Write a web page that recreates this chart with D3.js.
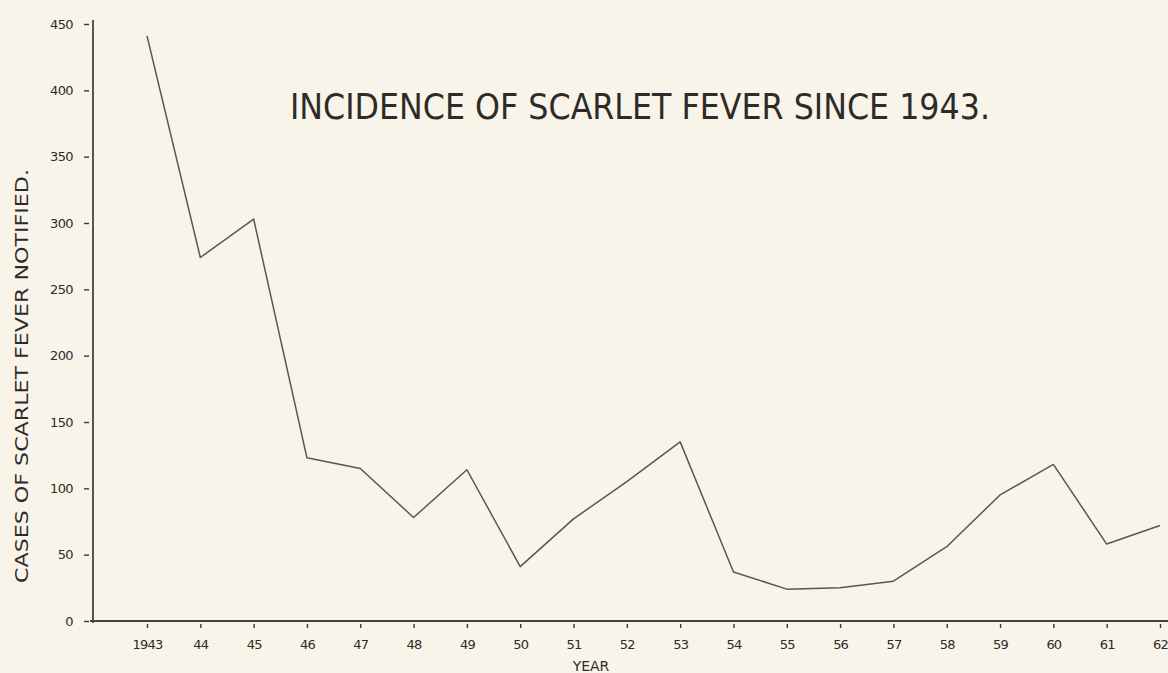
<!DOCTYPE html>
<html>
<head>
<meta charset="utf-8">
<script src="https://cdn.jsdelivr.net/npm/d3@7"></script>
<style>
  html, body { margin: 0; padding: 0; background: #f8f4ea; }
  svg { display: block; }
  text { font-family: "DejaVu Sans", sans-serif; fill: #2e2b27; }
</style>
</head>
<body>
<div id="chart"></div>
<script>
// values
const years = [1943, 1944, 1945, 1946, 1947, 1948, 1949, 1950, 1951, 1952,
               1953, 1954, 1955, 1956, 1957, 1958, 1959, 1960, 1961, 1962];
const cases = [441, 274, 303, 123, 115, 78, 114, 41, 77, 105,
               135, 37, 24, 25, 30, 56, 95, 118, 58, 72];
const yearLabels = ["1943", "44", "45", "46", "47", "48", "49", "50", "51", "52",
                    "53", "54", "55", "56", "57", "58", "59", "60", "61", "62"];
const yTicks = [0, 50, 100, 150, 200, 250, 300, 350, 400, 450];

const width = 1168, height = 673;
const svg = d3.select("#chart").append("svg")
  .attr("width", width).attr("height", height);

svg.append("rect").attr("width", width).attr("height", height).attr("fill", "#f8f4ea");

const x = d3.scaleLinear().domain([1943, 1962]).range([147, 1160]);
const y = d3.scaleLinear().domain([0, 450]).range([621, 24]);

// y axis
const yAxis = d3.axisLeft(y).tickValues(yTicks).tickSize(5).tickPadding(11);
const yg = svg.append("g")
  .attr("transform", "translate(89,0)")
  .call(yAxis);
yg.select(".domain").remove();
yg.selectAll("line").attr("stroke", "#3a3632").attr("stroke-width", 1.4);
yg.selectAll("text").style("font-size", "13px").attr("fill", "#2e2b27")
  .attr("letter-spacing", "-0.6");

svg.append("line")
  .attr("x1", 93).attr("x2", 93).attr("y1", y(450) - 4).attr("y2", y(0) + 2)
  .attr("stroke", "#46423d").attr("stroke-width", 1.8);

// x axis
svg.append("line")
  .attr("x1", 90).attr("x2", width).attr("y1", y(0)).attr("y2", y(0))
  .attr("stroke", "#46423d").attr("stroke-width", 1.8);

const xAxis = d3.axisBottom(x).tickValues(years)
  .tickFormat((d, i) => yearLabels[i]).tickSize(4).tickPadding(12);
const xg = svg.append("g")
  .attr("transform", `translate(0,${y(0) + 3})`)
  .call(xAxis);
xg.select(".domain").remove();
xg.selectAll("line").attr("stroke", "#3a3632").attr("stroke-width", 1.4);
xg.selectAll("text").style("font-size", "13px").attr("fill", "#2e2b27")
  .attr("letter-spacing", "-0.8");

// data line
const line = d3.line().x((d, i) => x(years[i])).y(d => y(d));
svg.append("path")
  .datum(cases)
  .attr("d", line)
  .attr("fill", "none")
  .attr("stroke", "#5a5651")
  .attr("stroke-width", 1.5)
  .attr("stroke-linejoin", "round");

// titles
svg.append("text")
  .attr("x", 290).attr("y", 119)
  .attr("textLength", 700).attr("lengthAdjust", "spacingAndGlyphs")
  .style("font-size", "35px")
  .text("INCIDENCE OF SCARLET FEVER SINCE 1943.");

svg.append("text")
  .attr("transform", "translate(28,376) rotate(-90)")
  .attr("text-anchor", "middle")
  .attr("textLength", 414).attr("lengthAdjust", "spacingAndGlyphs")
  .style("font-size", "17px")
  .text("CASES OF SCARLET FEVER NOTIFIED.");

svg.append("text")
  .attr("x", 591).attr("y", 671)
  .attr("text-anchor", "middle")
  .style("font-size", "14px")
  .text("YEAR");
</script>
</body>
</html>
